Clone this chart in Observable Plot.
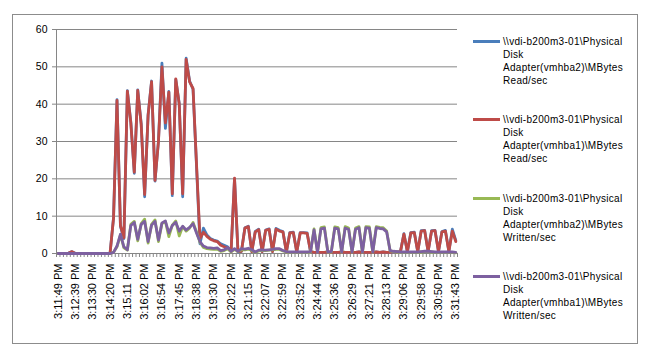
<!DOCTYPE html>
<html><head><meta charset="utf-8">
<script src="https://cdn.jsdelivr.net/npm/d3@7"></script>
<script src="https://cdn.jsdelivr.net/npm/@observablehq/plot@0.6"></script>
<style>
body{margin:0;background:#fff;}
#wrap{position:relative;width:646px;height:358px;font-family:"Liberation Sans",Arial,sans-serif;overflow:hidden;}
#frame{position:absolute;left:12px;top:14px;width:626px;height:330px;border:1px solid #8c8c8c;box-sizing:border-box;}
#chart{position:absolute;left:0;top:0;}
#legend{position:absolute;left:473px;top:0;}
.entry{position:absolute;left:0;width:170px;}
.sw{position:absolute;left:0;width:27px;height:3px;}
.txt{position:absolute;left:30px;top:0;font-size:10px;line-height:13px;letter-spacing:0.3px;white-space:nowrap;color:#000;}
</style>
</head><body>
<div id="wrap"><div id="frame"></div><div id="chart"></div><div id="legend"></div></div>
<script>
const timeLabels = ["3:11:49 PM","3:12:39 PM","3:13:30 PM","3:14:20 PM","3:15:11 PM","3:16:02 PM","3:16:54 PM","3:17:45 PM","3:18:38 PM","3:19:30 PM","3:20:22 PM","3:21:15 PM","3:22:07 PM","3:22:59 PM","3:23:52 PM","3:24:44 PM","3:25:36 PM","3:26:29 PM","3:27:21 PM","3:28:13 PM","3:29:06 PM","3:29:58 PM","3:30:50 PM","3:31:43 PM"];
const seriesNames = [
  "\\\\vdi-b200m3-01\\Physical Disk Adapter(vmhba2)\\MBytes Read/sec",
  "\\\\vdi-b200m3-01\\Physical Disk Adapter(vmhba1)\\MBytes Read/sec",
  "\\\\vdi-b200m3-01\\Physical Disk Adapter(vmhba2)\\MBytes Written/sec",
  "\\\\vdi-b200m3-01\\Physical Disk Adapter(vmhba1)\\MBytes Written/sec"
];
const seriesColors = ["#4A7EBB","#BE4B48","#98B954","#7D60A0"];
const yTicks = [0,10,20,30,40,50,60];

const readHba2 = [
0,0,0,0.1,0.5,0,0,0,0,0,
0,0,0,0,0,0.1,9.6,41.2,7.3,4,
43.6,35.2,21.5,43.8,34.8,15.2,37.2,46.2,19.4,30.2,
51,33.5,43.4,15.5,46.6,40.2,15.2,52.3,46.2,44,
23.5,2.6,6.8,5,4,3.6,3.3,2.6,2.2,1.8,
0.6,20,0.4,0.6,6.9,7.3,0.5,5.9,6.5,0.5,
6.3,6.6,0.5,6.7,6.2,5.9,0.4,5.6,5.7,0.4,
5.6,5.6,5.5,0.5,0.3,0.3,0.3,0.3,0.4,0.3,
0.3,0.3,0.4,0.3,0.3,0.3,0.3,0.4,0.3,0.3,
0.3,0.3,0.4,0.3,0.4,0.3,0.3,0.5,0.4,0.5,
5.3,0.5,5.6,5.7,0.5,6.1,6.2,0.5,6.1,6.2,
0.5,5.9,6.2,0.5,6.5,3.5];
const readHba1 = [
0,0,0,0.1,0.5,0,0,0,0,0,
0,0,0,0,0,0.1,9.5,41,7.5,4.2,
43.5,35,21.8,43.7,34.5,15.8,37,46,19.6,30,
50,35,43.2,16,46.8,40,16,52,46,44.2,
24,4,5.7,4.6,3.8,3.4,3.2,2.2,1.8,1.5,
0.5,20.2,0.5,0.6,6.8,7.2,0.5,5.8,6.4,0.5,
6.2,6.5,0.5,6.5,6,5.8,0.4,5.5,5.6,0.4,
5.5,5.5,5.4,0.5,0.3,0.3,0.3,0.3,0.4,0.3,
0.3,0.3,0.4,0.3,0.3,0.3,0.3,0.4,0.3,0.3,
0.3,0.3,0.4,0.3,0.4,0.3,0.3,0.5,0.4,0.5,
5.2,0.5,5.5,5.6,0.5,6,6.1,0.5,6,6.1,
0.5,5.8,6,0.5,6,3.2];
const writeHba2 = [
0,0,0,0,0,0,0,0,0,0,
0,0,0,0,0,0,0.3,1.8,5,1.5,
0.9,7.8,8.6,3.4,8,9.2,2.8,7.8,9,3.2,
8,8.6,4.5,7.6,8.7,4.7,7.2,6,6.8,8.3,
5.8,3,1.6,1.3,1.2,1.1,1.2,0.6,0.8,1.3,
0.4,1.1,0.5,1,1,1.2,0.8,0.3,0.7,0.8,
0.8,0.9,1,1.1,1.1,0.7,0.4,0.3,0.3,0.3,
0.3,0.3,0.3,0.4,6.6,0.3,6.9,7.1,0.3,0.4,
7.1,6.9,0.3,7.2,6.8,0.3,6.8,7.2,0.3,7.2,
7.1,0.3,7.2,7,6.9,6,0.7,0.5,0.4,0.3,
0.3,0.3,0.3,0.3,0.3,0.4,0.5,0.5,0.4,0.3,
0.3,0.3,0.3,0.3,0.3,0.2];
const writeHba1 = [
0,0,0,0,0,0,0,0,0,0,
0,0,0,0,0,0,0.3,2,5.2,1.8,
1,7.5,8.3,3.8,7.8,8.6,3.2,7.6,8.6,3.6,
8.2,8.7,5.5,7.5,8.4,6,7.3,6.3,7,8,
5.5,3.2,2,1.6,1.5,1.4,1.5,0.8,1,1.6,
0.6,1.3,0.6,1.3,1.2,1.4,1,0.4,0.9,1,
0.9,1,1.1,1.3,1.3,0.8,0.5,0.4,0.4,0.4,
0.4,0.4,0.4,0.5,6.3,0.3,6.6,6.8,0.4,0.5,
6.8,6.6,0.4,6.8,6.5,0.4,6.5,6.9,0.4,6.9,
6.8,0.4,6.9,6.7,6.6,5.8,0.8,0.6,0.5,0.4,
0.4,0.4,0.4,0.4,0.4,0.5,0.6,0.6,0.5,0.4,
0.4,0.4,0.4,0.4,0.4,0.3];

const seriesValues = [readHba2, readHba1, writeHba2, writeHba1];
const n = readHba1.length;
const boundaries = d3.range(n + 1).map(k => k - 0.5);
const labelIdx = timeLabels.map((_, k) => k * 5);

const lineMarks = seriesValues.map((vals, s) =>
  Plot.lineY(vals.map((v, i) => ({i, v})), {
    x: "i", y: "v", stroke: seriesColors[s], strokeWidth: 2.8,
    strokeLinejoin: "round", strokeLinecap: "round"
  })
);

const chart = Plot.plot({
  width: 646, height: 358,
  marginLeft: 56, marginRight: 189, marginTop: 29, marginBottom: 105,
  style: {fontFamily: "'Liberation Sans', Arial, sans-serif", color: "#000", background: "transparent", overflow: "visible"},
  x: {domain: [-0.5, n - 0.5], axis: null, label: null},
  y: {domain: [0, 60], axis: null, label: null},
  marks: [
    Plot.gridY(yTicks, {stroke: "#868686", strokeOpacity: 1}),
    Plot.ruleX([-0.5], {stroke: "#868686"}),
    Plot.axisY(yTicks, {label: null, tickSize: 4, tickPadding: 5, fontSize: 10.5, stroke: "#868686", fill: "#000"}),
    Plot.axisX(boundaries, {label: null, tickSize: 4, tickFormat: () => "", stroke: "#868686"}),
    Plot.axisX(labelIdx, {label: null, tickSize: 0, tickPadding: 10, tickRotate: -90, fontSize: 11, fill: "#000",
      tickFormat: i => timeLabels[i / 5]}),
    ...lineMarks
  ]
});
document.getElementById("chart").appendChild(chart);

const legend = document.getElementById("legend");
const entryTops = [34.5, 113, 191.5, 270];
seriesNames.forEach((name, s) => {
  const e = document.createElement("div");
  e.className = "entry";
  e.style.top = entryTops[s] + "px";
  const sw = document.createElement("div");
  sw.className = "sw";
  sw.style.top = "5px";
  sw.style.background = seriesColors[s];
  const t = document.createElement("div");
  t.className = "txt";
  t.innerHTML = name.split(" ").map(w => w.replace(/&/g,"&amp;").replace(/</g,"&lt;")).join("<br>");
  e.appendChild(sw); e.appendChild(t);
  legend.appendChild(e);
});
</script>
</body></html>
